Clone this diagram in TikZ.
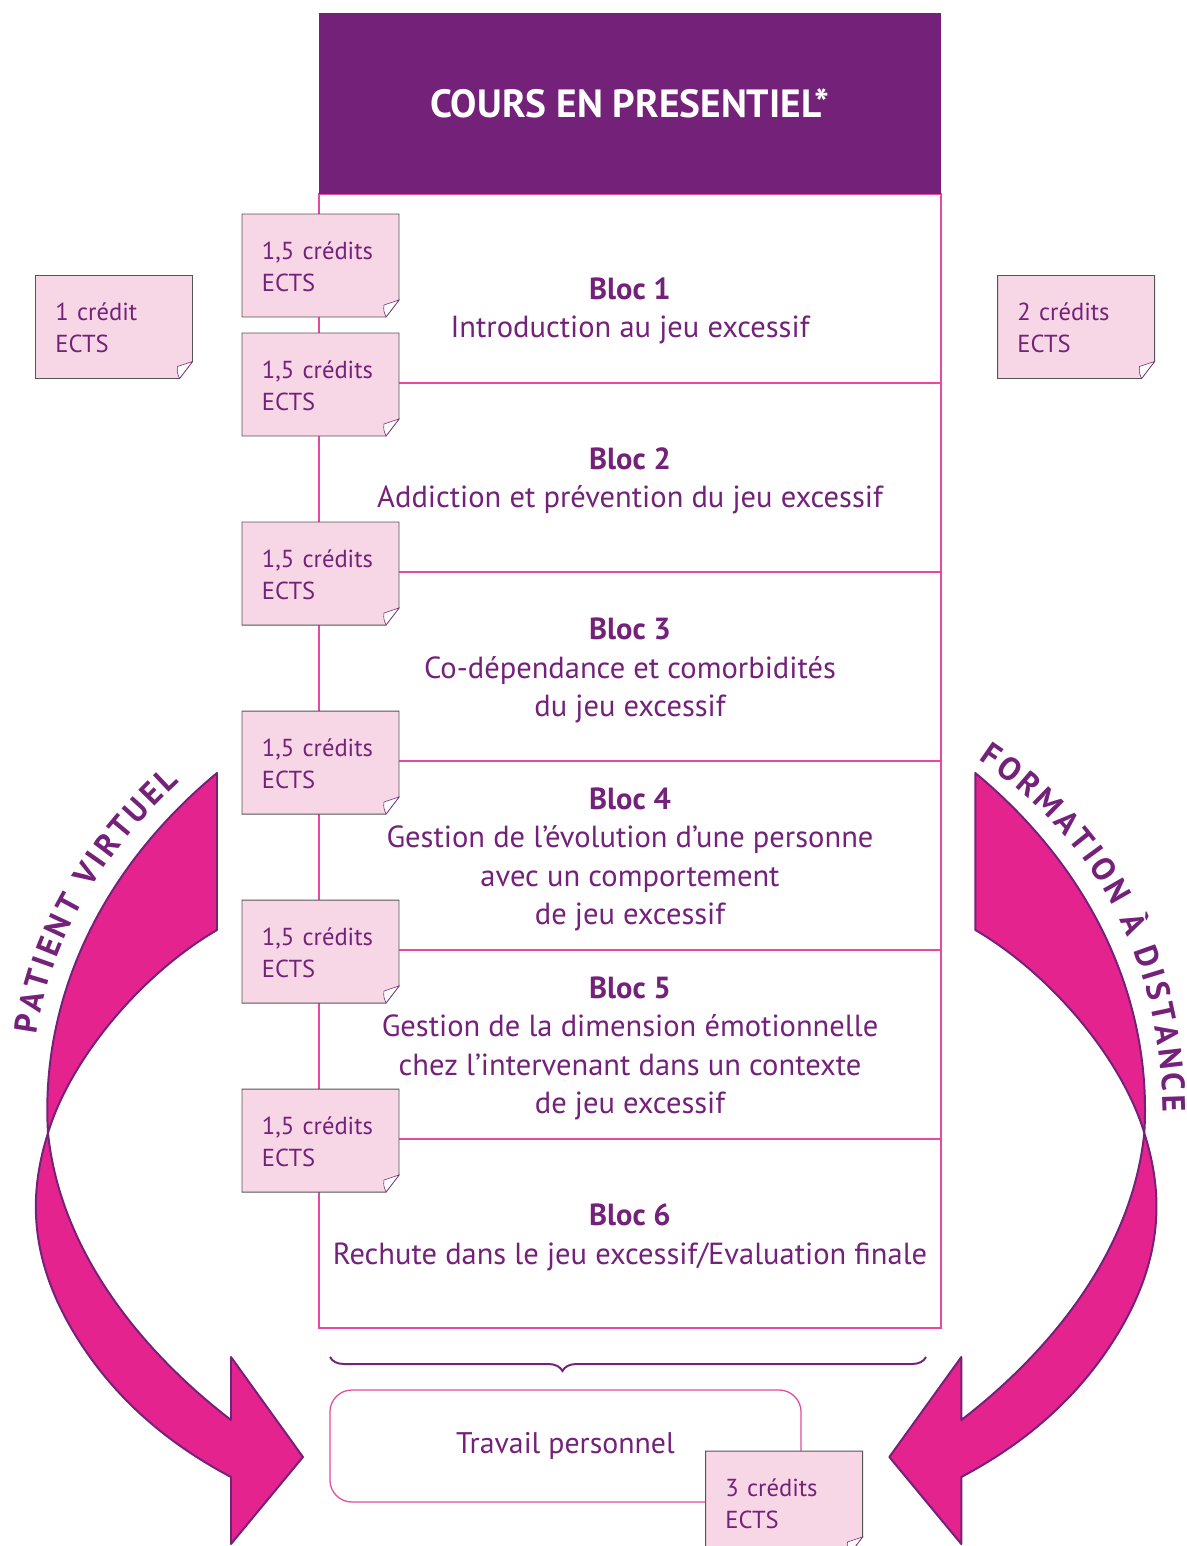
\documentclass[tikz,border=0pt]{standalone}
\usepackage{fontspec}
\setmainfont{PT Sans}
\usepackage{xcolor}
\definecolor{cpurple}{RGB}{116,33,122}
\definecolor{cmagenta}{RGB}{228,35,142}
\definecolor{cline}{RGB}{232,72,158}
\definecolor{cpink}{RGB}{247,214,230}
\definecolor{cedge}{RGB}{85,85,85}
\usepackage{tikz}
\usetikzlibrary{calc, decorations.pathreplacing, decorations.text}
\tikzset{
Header/.style={
	fill=cpurple, text=white,
	minimum width=15.55cm, minimum height=4.525cm,
	font=\bfseries\fontsize{28}{32}\selectfont
},
Cell/.style={
	draw=cline, line width=0.9pt,
	minimum width=15.55cm, minimum height=4.725cm
},
Bloc/.style={
	align=center, text=cpurple,
	font=\fontsize{21.7}{27.4}\selectfont
},
Note/.style={
	align=left, text=cpurple, inner sep=0pt,
	text width=2.925cm,
	font=\fontsize{17.5}{22.8}\selectfont
},
NoteEdge/.style={
	draw=cedge, fill=cpink, line width=0.7pt
},
Fold/.style={
	draw=cpurple, fill=white, line width=0.4pt
},
Personal/.style={
	draw=cline, line width=0.9pt, rounded corners=0.55cm,
	minimum width=11.775cm, minimum height=2.8cm,
	text=cpurple, font=\fontsize{21.2}{24}\selectfont
},
Brace/.style={
	draw=cpurple, line width=1.4pt,
	decorate, decoration={brace, amplitude=0.35cm, aspect=0.61}
},
Ribbon/.style={
	fill=cmagenta, draw=cpurple, line width=1.4pt, line join=round
},
RibbonShape/.style={
	insert path={(217,773) -- (217,930) .. controls (140,975) and (70,1060) .. (48,1133)
	.. controls (30,1190) and (25,1260) .. (83,1347)
	.. controls (125,1410) and (180,1450) .. (231,1477)
	-- (231,1544) -- (303,1457) -- (231,1357) -- (231,1420)
	.. controls (140,1350) and (60,1250) .. (48,1133)
	.. controls (40,1000) and (100,870) .. (217,773) -- cycle}
},
Bend/.style={
	decorate, decoration={text along path, text align=fit to path,
	text color=cpurple, text={|\bfseries\fontsize{23}{23}\selectfont|#1}}
}
}

\begin{document}
\begin{tikzpicture}[x=0.025cm, y=-0.025cm]
	\useasboundingbox (0,0) rectangle (1186,1546);

	% course blocks
	\foreach \i in {1,...,6}
		\node[Cell] (C\i) at (630,{194+189*(\i-0.5)}) {};
	\node[Header] (H) at (630,103.5) {COURS EN PRESENTIEL*};

	\node[Bloc] (B1) at (630,311) {\textbf{Bloc 1}\\Introduction au jeu excessif};
	\node[Bloc] (B2) at (630,481) {\textbf{Bloc 2}\\Addiction et prévention du jeu excessif};
	\node[Bloc] (B3) at (630,670.5) {\textbf{Bloc 3}\\Co-dépendance et comorbidités\\du jeu excessif};
	\node[Bloc] (B4) at (630,859.5) {\textbf{Bloc 4}\\Gestion de l’évolution d’une personne\\avec un comportement\\de jeu excessif};
	\node[Bloc] (B5) at (630,1048.5) {\textbf{Bloc 5}\\Gestion de la dimension émotionnelle\\chez l’intervenant dans un contexte\\de jeu excessif};
	\node[Bloc] (B6) at (630,1237.5) {\textbf{Bloc 6}\\Rechute dans le jeu excessif/Evaluation finale};

	% brace and personal work
	\coordinate (br1) at (926,1357);
	\coordinate (br2) at (330,1357);
	\draw[Brace] (br1) -- (br2);
	\node[Personal] (TP) at (565.5,1446) {Travail personnel};

	% credit notes
	\foreach \n/\x/\y/\t in {1/320.5/265.5/{1,5 crédits}, 2/320.5/384.5/{1,5 crédits},
		3/320.5/573.5/{1,5 crédits}, 4/320.5/762.5/{1,5 crédits}, 5/320.5/951.5/{1,5 crédits},
		6/320.5/1140.5/{1,5 crédits}, L/114/327/{1 crédit}, R/1076/327/{2 crédits},
		P/784/1502.5/{3 crédits}}
	{
		\coordinate (P\n) at (\x,\y);
		\draw[NoteEdge] ($(P\n)+(-78.5,-51.5)$) -- ($(P\n)+(78.5,-51.5)$) -- ($(P\n)+(78.5,34.5)$)
			-- ($(P\n)+(65.5,51.5)$) -- ($(P\n)+(-78.5,51.5)$) -- cycle;
		\draw[Fold] ($(P\n)+(78.5,34.5)$) -- ($(P\n)+(63.5,39.5)$)
			.. controls ($(P\n)+(63,45)$) .. ($(P\n)+(65.5,51.5)$) -- cycle;
		\node[Note] (N\n) at ($(P\n)+(0,1)$) {\t\\ECTS};
	}

	% twisted arrows
	\draw[Ribbon, RibbonShape];
	\begin{scope}[xshift=29.8cm, xscale=-1]
		\draw[Ribbon, RibbonShape];
	\end{scope}
	\path[Bend=PATIENT VIRTUEL] (37,1035) .. controls (48,950) and (95,860) .. (180,782);
	\path[Bend=FORMATION À DISTANCE] (978,760) .. controls (1090,835) and (1160,950) .. (1163,1112);
\end{tikzpicture}
\end{document}
